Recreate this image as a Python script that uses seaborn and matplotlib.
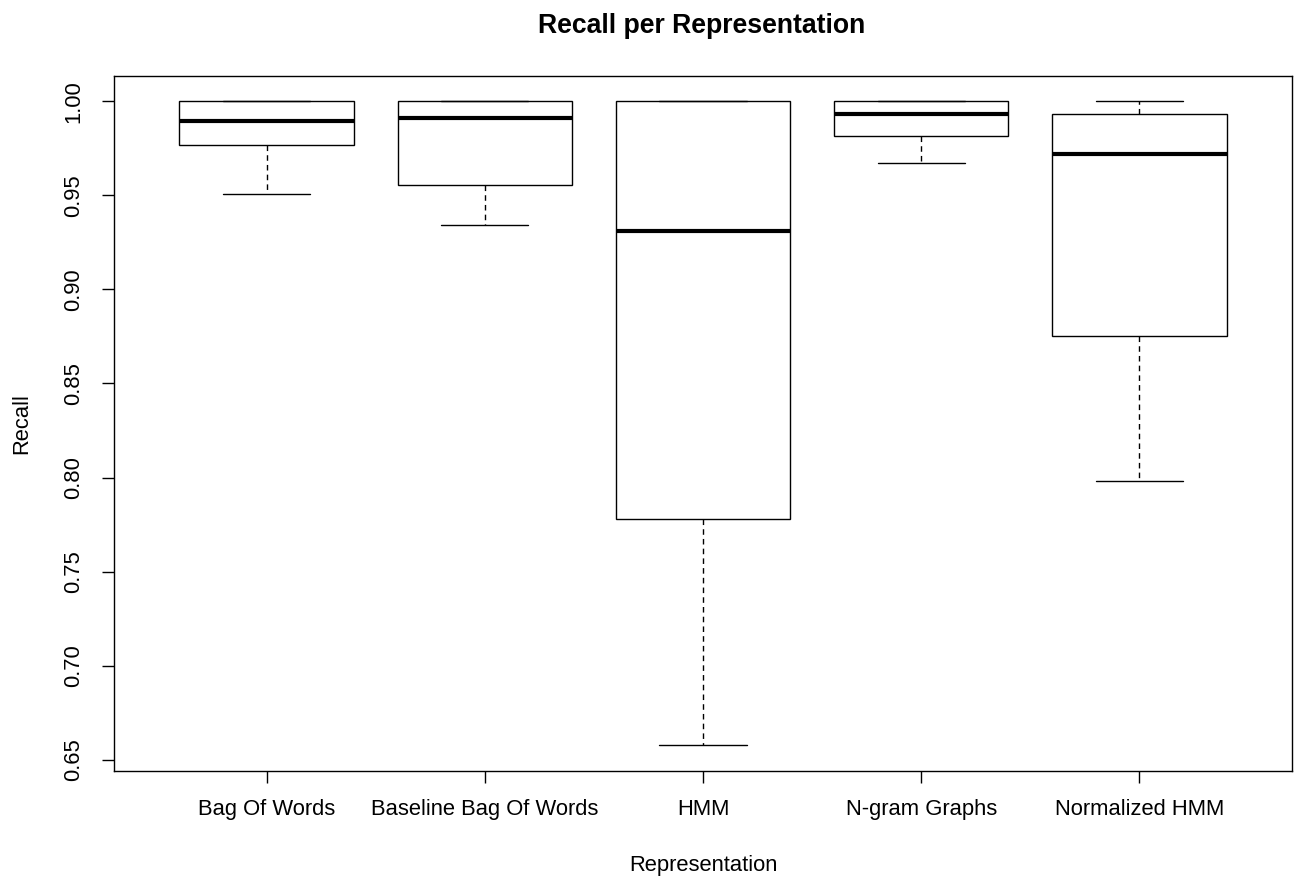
import numpy as np
import pandas as pd
import matplotlib
matplotlib.use("Agg")
import matplotlib.pyplot as plt
import seaborn as sns

# Five-number summaries of recall for each document representation
representations = ["Bag Of Words", "Baseline Bag Of Words", "HMM",
                   "N-gram Graphs", "Normalized HMM"]
whisker_low = [0.9507, 0.9342, 0.6576, 0.9670, 0.7979]
q1 = [0.9768, 0.9557, 0.7780, 0.9816, 0.8755]
median = [0.9897, 0.9913, 0.9310, 0.9933, 0.9718]
q3 = [1.0000, 1.0000, 1.0000, 1.0000, 0.9931]
whisker_high = [1.0000, 1.0000, 1.0000, 1.0000, 1.0000]

y_ticks = [0.65, 0.70, 0.75, 0.80, 0.85, 0.90, 0.95, 1.00]

rows = []
for i, rep in enumerate(representations):
    for v in (whisker_low[i], q1[i], median[i], q3[i], whisker_high[i]):
        rows.append({"Representation": rep, "Recall": v})
df = pd.DataFrame(rows)

sns.set_theme(style="ticks")
plt.rcParams["font.family"] = ["Liberation Sans", "DejaVu Sans"]
plt.rcParams["axes.edgecolor"] = "black"
plt.rcParams["axes.linewidth"] = 1.0
plt.rcParams["text.color"] = "black"
plt.rcParams["axes.labelcolor"] = "black"

fig = plt.figure(figsize=(13.01, 8.8), dpi=100)
ax = fig.add_axes([114 / 1301, 1 - 771 / 880, (1292 - 114) / 1301, (771 - 75.7) / 880])

sns.boxplot(
    data=df, x="Representation", y="Recall", order=representations,
    whis=(0, 100), width=0.8, color="white", linecolor="black",
    linewidth=1.0, ax=ax,
    medianprops=dict(color="black", linewidth=3.0),
    whiskerprops=dict(color="black", linewidth=1.0, linestyle=(0, (4, 3))),
    capprops=dict(color="black", linewidth=1.0),
    boxprops=dict(edgecolor="black", linewidth=1.0),
    capwidths=0.4,
)

lo = min(whisker_low)
hi = max(whisker_high)
ext = 0.04 * (hi - lo)
ax.set_ylim(lo - ext, hi + ext)
ext_x = 0.04 * len(representations)
ax.set_xlim(-0.5 - ext_x, len(representations) - 0.5 + ext_x)

ax.set_yticks(y_ticks)
ax.set_yticklabels([f"{t:.2f}" for t in y_ticks], rotation=90, va="center")
ax.tick_params(axis="both", direction="out", length=8.5, width=1.0,
               color="black", labelsize=15.8, labelcolor="black")
ax.tick_params(axis="y", pad=13)
ax.tick_params(axis="x", pad=12)

for side in ("top", "right", "left", "bottom"):
    ax.spines[side].set_visible(True)
    ax.spines[side].set_color("black")
    ax.spines[side].set_linewidth(1.0)

ax.set_xlabel("Representation", fontsize=15.8, labelpad=25, color="black")
ax.set_ylabel("Recall", fontsize=15.8, labelpad=22, color="black")
fig.suptitle("Recall per Representation", fontsize=19.2, fontweight="bold",
             x=702 / 1301, y=1 - 26 / 880, va="center", color="black")

fig.savefig("out.png", dpi=100, facecolor="white")
